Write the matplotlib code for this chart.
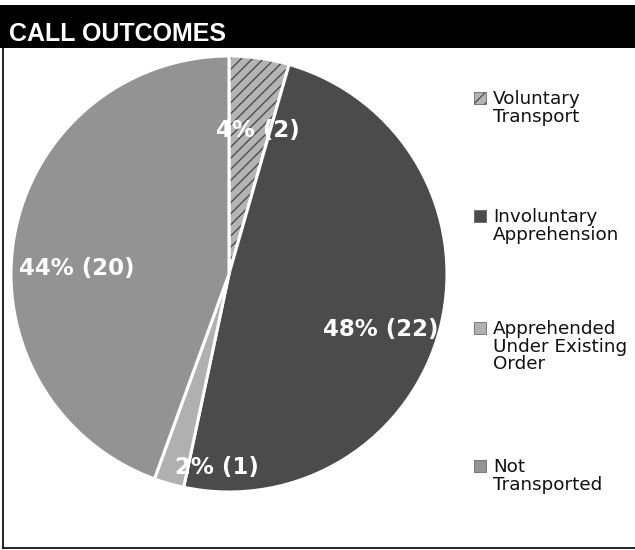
import numpy as np
import matplotlib.pyplot as plt
from matplotlib.patches import Rectangle

# Данни
labels = ['Voluntary\nTransport', 'Involuntary\nApprehension',
          'Apprehended\nUnder Existing\nOrder', 'Not\nTransported']
counts = [2, 22, 1, 20]
colors = ['#b4b4b4', '#4b4b4b', '#b0b0b0', '#939393']
hatches = ['///', None, None, None]

# Разположение на етикетите (отместване от средата на резена, радиус)
lbl_shift = [-3.5, -6, 12.5, 8]
lbl_r = [0.67, 0.74, 0.89, 0.70]
legend_top = [90, 208, 320, 458]  # px от горния край

W, H = 635, 550
fig = plt.figure(figsize=(W / 100, H / 100), dpi=100)

# Заглавна лента
fig.patches.append(Rectangle((0, 1 - 48 / H), 1, 43 / H, transform=fig.transFigure,
                             facecolor='black', edgecolor='none'))
fig.text(9 / W, 1 - 41 / H, 'CALL OUTCOMES', color='white', fontsize=18,
         fontweight='bold', family='Liberation Sans', va='baseline', ha='left')

# Рамка
fig.add_artist(plt.Line2D([3 / W, 3 / W], [1 - 548 / H, 1 - 6 / H],
                          transform=fig.transFigure, color='black', lw=1.2))
fig.add_artist(plt.Line2D([3 / W, 1], [1 - 548 / H, 1 - 548 / H],
                          transform=fig.transFigure, color='black', lw=1.2))

# Пай
cx, cy, r = 229, 274, 218
ax = fig.add_axes([(cx - r) / W, 1 - (cy + r) / H, 2 * r / W, 2 * r / H])
wedges, _ = ax.pie(counts, colors=colors, startangle=90, counterclock=False,
                   wedgeprops=dict(edgecolor='white', linewidth=2.2))
for w, h in zip(wedges, hatches):
    if h:
        w.set_hatch(h)
        w._hatch_color = (0.3, 0.3, 0.3, 1)
ax.set_xlim(-1, 1)
ax.set_ylim(-1, 1)
ax.axis('off')

total = sum(counts)
for w, c, s, rr in zip(wedges, counts, lbl_shift, lbl_r):
    mid = np.deg2rad((w.theta1 + w.theta2) / 2 + s)
    ax.text(rr * np.cos(mid), rr * np.sin(mid), f'{int(100 * c / total)}% ({c})',
            ha='center', va='center', color='white', fontsize=16.5, fontweight='bold')

# Легенда
sq = 12
for lab, col, h, top in zip(labels, colors, hatches, legend_top):
    rect = Rectangle((474 / W, 1 - (top + sq + 2) / H), sq / W, sq / H,
                     transform=fig.transFigure, facecolor=col, edgecolor='#555',
                     lw=0.5, hatch=h)
    fig.patches.append(rect)
    fig.text(493 / W, 1 - top / H, lab, fontsize=13.2, va='top', ha='left',
             color='#111', linespacing=0.98)

fig.savefig('out.png', dpi=100)
